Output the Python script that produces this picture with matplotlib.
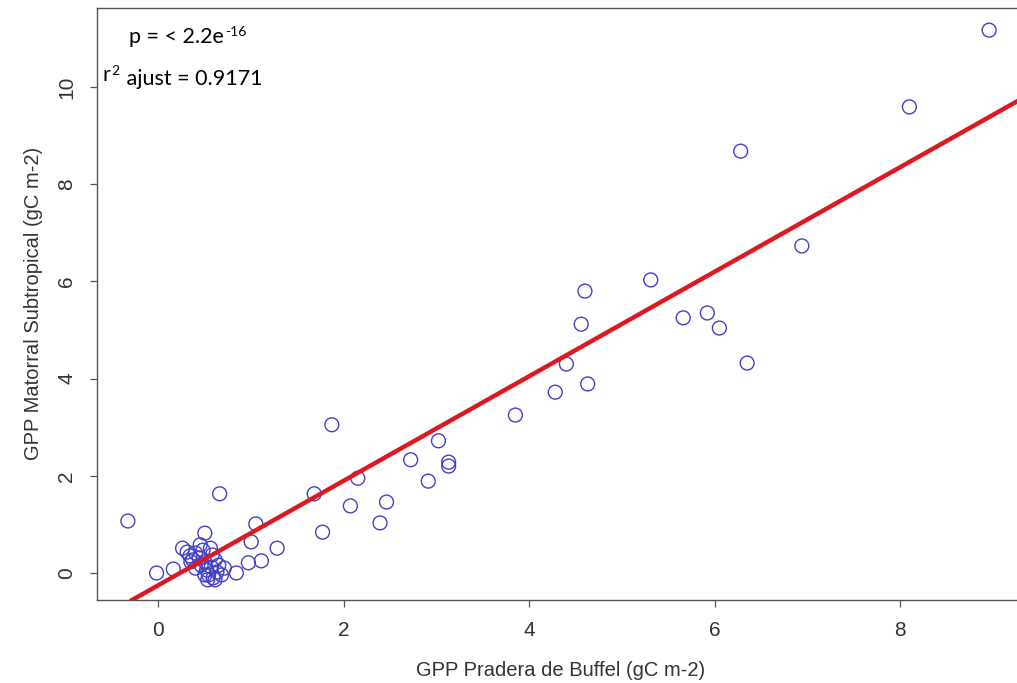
import matplotlib
matplotlib.use("Agg")
import matplotlib.pyplot as plt
import numpy as np

# ---- data ----
x_buffel = [8.96, 8.10, 6.28, 6.94, 5.31, 4.60, 4.56, 5.66, 5.92, 6.05, 6.35, 4.63,
            4.40, 4.28, 3.85, 1.87, 3.02, 3.13, 3.13, 2.72, 2.15, 2.91, 1.68, 2.46,
            2.07, 2.39, 1.77, 0.66, -0.33, 1.05, 1.00, 1.28, 1.11, 0.97, 0.84, 0.50,
            0.26, -0.02, 0.16,
            0.31, 0.34, 0.37, 0.40, 0.44, 0.46, 0.48, 0.50, 0.52, 0.54, 0.57, 0.59,
            0.61, 0.63, 0.65, 0.68, 0.58, 0.50, 0.53, 0.40, 0.35, 0.61, 0.45, 0.71, 0.56]
y_matorral = [11.17, 9.59, 8.68, 6.73, 6.03, 5.80, 5.12, 5.25, 5.35, 5.04, 4.32, 3.89,
              4.30, 3.72, 3.25, 3.05, 2.72, 2.28, 2.20, 2.33, 1.95, 1.89, 1.63, 1.46,
              1.38, 1.03, 0.84, 1.63, 1.07, 1.01, 0.64, 0.51, 0.25, 0.21, 0.00, 0.82,
              0.51, 0.00, 0.08,
              0.43, 0.35, 0.27, 0.41, 0.31, 0.16, 0.47, 0.23, 0.06, -0.04, 0.12, -0.10,
              0.27, 0.02, 0.16, -0.04, 0.37, -0.04, -0.14, 0.10, 0.23, -0.14, 0.58, 0.10, 0.51]

fit_intercept = -0.25
fit_slope = 1.075

x_ticks = [0, 2, 4, 6, 8]
y_ticks = [0, 2, 4, 6, 8, 10]
x_label = "GPP Pradera de Buffel (gC m-2)"
y_label = "GPP Matorral Subtropical (gC m-2)"
p_base, p_sup, p_tail = "p = < 2.2e", "-16", ""
r_base, r_sup, r_tail = "r", "2", " ajust = 0.9171"

# ---- figure ----
W, H = 1017, 683
fig = plt.figure(figsize=(W / 100, H / 100), dpi=100)
ax = fig.add_axes([97 / W, (H - 600) / H, (1024 - 97) / W, (600 - 7.5) / H])

ax.scatter(x_buffel, y_matorral, s=100, facecolors="none", edgecolors="#4040cc",
           linewidths=1.0, zorder=2)
ax.axline((0, fit_intercept), slope=fit_slope, color="#dc1820", lw=3.2, zorder=3)

ax.set_xlim(-0.663, 9.336)
ax.set_ylim(-0.556, 11.636)

tick_font = {"family": "Liberation Sans", "size": 15, "color": "#333333"}
ax.set_xticks(x_ticks)
ax.set_xticklabels([str(t) for t in x_ticks], fontdict=tick_font)
ax.set_yticks(y_ticks)
ax.set_yticklabels([str(t) for t in y_ticks], fontdict=tick_font, rotation=90, va="center")
ax.tick_params(axis="both", direction="out", length=5, width=0.9, color="#555555")
ax.tick_params(axis="x", pad=10)
ax.tick_params(axis="y", pad=10)

ax.set_xlabel(x_label, family="Liberation Sans", fontsize=14.5, color="#333333", labelpad=15.5)
ax.set_ylabel(y_label, family="Liberation Sans", fontsize=14.5, color="#333333", labelpad=10)

for sp in ax.spines.values():
    sp.set_color("#555555")
    sp.set_linewidth(1.0)

afont = dict(family="Lato", color="black")
# line 1: p = < 2.2e^-16
t1 = fig.text(129 / W, 1 - 43 / H, p_base, ha="left", va="baseline", fontsize=15.5, **afont)
fig.canvas.draw()
ax.annotate(p_sup, xy=(1.0, 0.0), xycoords=t1, xytext=(1, 8), textcoords="offset points",
            ha="left", va="baseline", fontsize=10, annotation_clip=False, **afont)
# line 2: r^2 ajust = 0.9171
t2 = fig.text(103 / W, 1 - 81 / H, r_base, ha="left", va="baseline", fontsize=15.5, **afont)
s2 = ax.annotate(r_sup, xy=(1.0, 0.0), xycoords=t2, xytext=(0.5, 7), textcoords="offset points",
                 ha="left", va="baseline", fontsize=10, annotation_clip=False, **afont)
ax.annotate(r_tail, xy=(1.0, 0.0), xycoords=t2, xytext=(7, 0), textcoords="offset points",
            ha="left", va="baseline", fontsize=15.5, annotation_clip=False, **afont)

fig.savefig("out.png", dpi=100)
